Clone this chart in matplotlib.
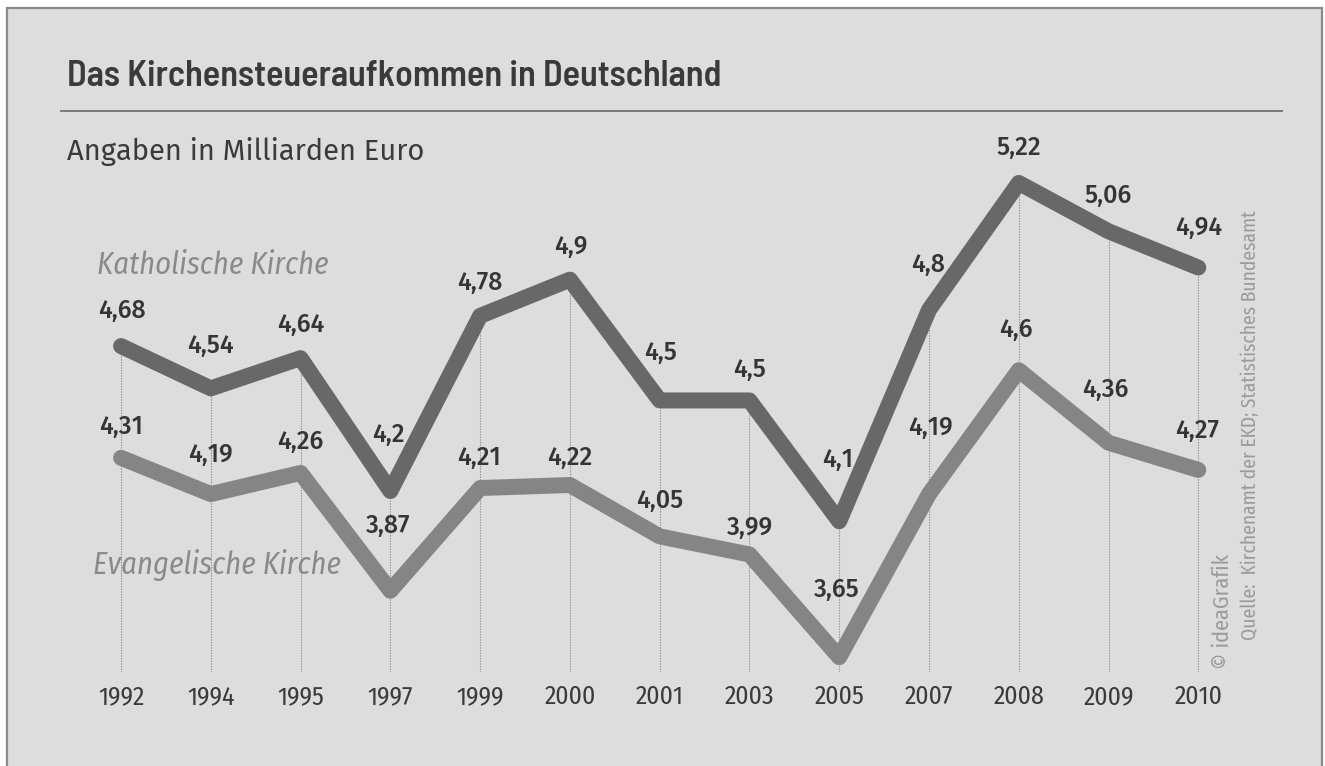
import matplotlib
matplotlib.use('Agg')
import matplotlib.pyplot as plt
from matplotlib.patches import Rectangle
from matplotlib.lines import Line2D

# data (Mrd. Euro)
years = ['1992', '1994', '1995', '1997', '1999', '2000', '2001',
         '2003', '2005', '2007', '2008', '2009', '2010']
katholisch = [4.68, 4.54, 4.64, 4.2, 4.78, 4.9, 4.5, 4.5, 4.1, 4.8, 5.22, 5.06, 4.94]
evangelisch = [4.31, 4.19, 4.26, 3.87, 4.21, 4.22, 4.05, 3.99, 3.65, 4.19, 4.6, 4.36, 4.27]

# label offsets above each point, in pixels (dx, dy)
kath_off = [(1, 35), (0, 43), (0, 33), (-2, 56), (0, 33), (1, 33), (1, 48),
            (0, 31), (-2, 61), (-1, 45), (0, 35), (0, 36), (0, 40)]
ev_off = [(0, 31), (0, 39), (0, 31), (-2, 65), (-1, 30), (0, 27), (0, 36),
          (0, 27), (-2, 67), (1, 66), (-3, 40), (-3, 53), (-1, 39)]

W, H = 1325, 766

TITLE_FONT = ['Barlow Semi Condensed', 'Barlow Condensed', 'DejaVu Sans']
COND_FONT = ['Fira Sans Condensed', 'DejaVu Sans']
REG_FONT = ['Fira Sans', 'Open Sans', 'DejaVu Sans']


def fx(px):
    return px / W


def fy(py):
    return 1 - py / H


fig = plt.figure(figsize=(W / 100, H / 100), dpi=100, facecolor='white')

# grey panel with border
fig.add_artist(Rectangle((fx(7), fy(900)), fx(1322) - fx(7), fy(8) - fy(900),
                         facecolor='#dddddf', edgecolor='#8a8a8a', linewidth=1.6,
                         transform=fig.transFigure, zorder=0))

# title and rule
fig.text(fx(67), fy(77), 'Das Kirchensteueraufkommen in Deutschland',
         family=TITLE_FONT, weight='semibold', fontsize=26, color='#3a3a3a', va='center')
fig.add_artist(Line2D([fx(61), fx(1282)], [fy(111), fy(111)], color='#7a7a7a',
                      linewidth=1.4, transform=fig.transFigure))
fig.text(fx(67), fy(151), 'Angaben in Milliarden Euro', family=REG_FONT,
         fontsize=21, color='#3a3a3a', va='center')

ax = fig.add_axes([fx(60), fy(672), fx(1280) - fx(60), fy(160) - fy(672)])
ax.patch.set_visible(False)
x = list(range(len(years)))
ax.set_xlim(-0.68, 12.91)
ax.set_ylim(3.601, 5.296)

ax.vlines(x, 3.601, katholisch, colors='#8c8c8c', linestyles=(0, (1.2, 1.2)),
          linewidth=0.8, zorder=1)
ax.plot(x, katholisch, color='#686868', linewidth=11.5,
        solid_capstyle='round', solid_joinstyle='round', zorder=3)
ax.plot(x, evangelisch, color='#858585', linewidth=11.5,
        solid_capstyle='round', solid_joinstyle='round', zorder=2)


def fmt(v):
    return f'{v:g}'.replace('.', ',')


for xi, v, (dx, dy) in zip(x, katholisch, kath_off):
    ax.annotate(fmt(v), (xi, v), xytext=(dx, dy), textcoords='offset pixels',
                ha='center', va='center', family=REG_FONT, weight='medium',
                fontsize=18, color='#353535', zorder=5)
for xi, v, (dx, dy) in zip(x, evangelisch, ev_off):
    ax.annotate(fmt(v), (xi, v), xytext=(dx, dy), textcoords='offset pixels',
                ha='center', va='center', family=REG_FONT, weight='medium',
                fontsize=18, color='#353535', zorder=5)

ax.set_xticks(x)
ax.set_xticklabels(years, family=COND_FONT, fontsize=18.5, color='#3a3a3a')
ax.tick_params(axis='x', length=0, pad=9)
ax.set_yticks([])
for s in ax.spines.values():
    s.set_visible(False)

# series names
fig.text(fx(97), fy(265), 'Katholische Kirche', family=COND_FONT, style='italic',
         fontsize=22, color='#8a8a8a', va='center')
fig.text(fx(93), fy(565), 'Evangelische Kirche', family=COND_FONT, style='italic',
         fontsize=22, color='#8a8a8a', va='center')

# source
fig.text(fx(1250), fy(425), 'Quelle:  Kirchenamt der EKD; Statistisches Bundesamt',
         family=COND_FONT, fontsize=14, color='#9a9a9a', rotation=90,
         ha='center', va='center')
fig.text(fx(1223), fy(612), '© ideaGrafik', family=COND_FONT, fontsize=16,
         color='#9a9a9a', rotation=90, ha='center', va='center')

fig.savefig('out.png', dpi=100, facecolor='white')
